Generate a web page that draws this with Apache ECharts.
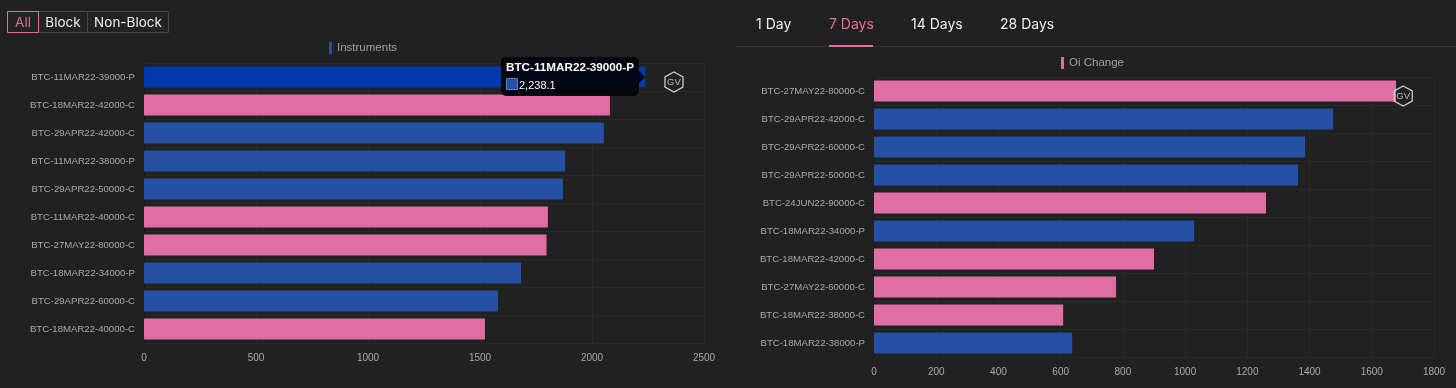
<!DOCTYPE html>
<html>
<head>
<meta charset="utf-8">
<style>
html, body { margin: 0; padding: 0; background: #212121; }
#chart { width: 1456px; height: 388px; }
</style>
<script src="https://cdn.jsdelivr.net/npm/echarts@6/dist/echarts.min.js"></script>
</head>
<body>
<div id="chart"></div>
<script>
const PINK = '#e06ea3';
const BLUE = '#2451a3';

const instrumentNames = ['BTC-11MAR22-39000-P', 'BTC-18MAR22-42000-C', 'BTC-29APR22-42000-C', 'BTC-11MAR22-38000-P', 'BTC-29APR22-50000-C',
    'BTC-11MAR22-40000-C', 'BTC-27MAY22-80000-C', 'BTC-18MAR22-34000-P', 'BTC-29APR22-60000-C', 'BTC-18MAR22-40000-C'];
const instrumentValues = [2238.1, 2080, 2053, 1880, 1870, 1803, 1797, 1683, 1580, 1522];
const instrumentSides = ['b', 'p', 'b', 'b', 'b', 'p', 'p', 'b', 'b', 'p'];

const oiNames = ['BTC-27MAY22-80000-C', 'BTC-29APR22-42000-C', 'BTC-29APR22-60000-C', 'BTC-29APR22-50000-C', 'BTC-24JUN22-90000-C',
    'BTC-18MAR22-34000-P', 'BTC-18MAR22-42000-C', 'BTC-27MAY22-60000-C', 'BTC-18MAR22-38000-C', 'BTC-18MAR22-38000-P'];
const oiValues = [1678, 1476, 1386, 1363, 1260, 1029, 900, 778, 608, 637];
const oiSides = ['p', 'b', 'b', 'b', 'p', 'b', 'p', 'p', 'p', 'b'];

const buttons = ['All', 'Block', 'Non-Block'];
const tabs = ['1 Day', '7 Days', '14 Days', '28 Days'];

const chart = echarts.init(document.getElementById('chart'));

const toBars = (values, sides) => values.map((v, i) => ({
    value: v,
    itemStyle: {color: sides[i] === 'p' ? PINK : BLUE}
}));

const gvMark = (value) => ({
    silent: true,
    animation: false,
    symbol: 'path://M10 0L20 6V18L10 24L0 18V6Z',
    symbolSize: [18, 20],
    itemStyle: {color: 'rgba(0,0,0,0)', borderColor: '#d0d0d0', borderWidth: 1.3},
    label: {show: true, position: 'inside', formatter: 'GV', color: '#b8b8b8', fontSize: 9.5, fontFamily: 'Liberation Sans'},
    data: [{coord: [value, 0], symbolOffset: [0, 5]}]
});

const valueAxis = (gridIndex, max, interval) => ({
    type: 'value',
    gridIndex: gridIndex,
    min: 0,
    max: max,
    interval: interval,
    axisLine: {show: false},
    axisTick: {show: false},
    axisLabel: {color: '#aaa', fontSize: 10, margin: 10, formatter: (v) => String(v)},
    splitLine: {lineStyle: {color: '#292929'}}
});

const categoryAxis = (gridIndex, names) => ({
    type: 'category',
    gridIndex: gridIndex,
    inverse: true,
    data: names,
    axisLine: {lineStyle: {color: '#181818'}},
    axisTick: {length: 9, lineStyle: {color: '#292929'}},
    axisLabel: {color: '#aaa', fontSize: 9.6, margin: 9, padding: [2, 0, 0, 0]},
    splitLine: {show: true, lineStyle: {color: '#292929'}}
});

// button group and tab strip above the charts
const buttonBoxes = [[7, 31], [38, 49], [87, 81]];
const tabX = [756, 829, 911, 1000];
const graphic = [];
buttons.forEach((b, i) => {
    const box = buttonBoxes[i];
    const on = i === 0;
    graphic.push({
        type: 'rect', z: on ? 12 : 10,
        shape: {x: box[0] + 0.5, y: 11.5, width: box[1], height: 21},
        style: {fill: '#232323', stroke: on ? PINK : '#474747', lineWidth: 1}
    });
    graphic.push({
        type: 'text', z: 13,
        style: {x: box[0] + box[1] / 2 + 0.5, y: 22.5, text: b, fill: on ? PINK : '#eee', font: '13.5px Inter', align: 'center', verticalAlign: 'middle'}
    });
});
tabs.forEach((t, i) => {
    graphic.push({
        type: 'text', z: 10,
        style: {x: tabX[i], y: 25, text: t, fill: i === 1 ? PINK : '#eee', font: '14px Inter', verticalAlign: 'middle'}
    });
});
graphic.push({type: 'rect', z: 9, shape: {x: 736, y: 46, width: 720, height: 1}, style: {fill: '#333'}});
graphic.push({type: 'rect', z: 10, shape: {x: 829, y: 45, width: 44, height: 2}, style: {fill: PINK}});

chart.setOption({
    animation: false,
    backgroundColor: '#212121',
    textStyle: {fontFamily: 'Liberation Sans'},
    graphic: graphic,
    legend: [
        {
            data: ['Instruments'], left: 324, top: 37, icon: 'rect', itemWidth: 3, itemHeight: 12, itemGap: 3,
            textStyle: {color: '#a0a0a0', fontSize: 11.5}, selectedMode: false
        },
        {
            data: ['Oi Change'], left: 1056, top: 52, icon: 'rect', itemWidth: 3, itemHeight: 12, itemGap: 3,
            textStyle: {color: '#a0a0a0', fontSize: 11.5}, selectedMode: false
        }
    ],
    tooltip: {
        trigger: 'item',
        alwaysShowContent: true,
        transitionDuration: 0,
        backgroundColor: 'rgba(3,5,12,0.96)',
        borderWidth: 0,
        padding: [1, 5],
        extraCssText: 'border-radius:5px;box-shadow:none;width:128px;height:37px;',
        position: [501, 57],
        formatter: (p) => '<div style="position:relative;font:11.7px/18px Liberation Sans;color:#fff">'
            + '<b>' + p.name + '</b><br>'
            + '<span style="display:inline-block;width:10px;height:10px;margin-right:1px;vertical-align:-1px;background:' + BLUE + ';border:1px solid #5a7cc0"></span>'
            + '<span style="font-size:11px">' + p.value.toLocaleString('en-US') + '</span>'
            + '<span style="position:absolute;right:-11px;top:13px;border-left:6px solid rgba(3,5,12,0.96);border-top:6px solid transparent;border-bottom:6px solid transparent"></span>'
            + '</div>'
    },
    grid: [
        {left: 144, top: 63, width: 560, height: 280},
        {left: 874, top: 77, width: 560, height: 280}
    ],
    xAxis: [valueAxis(0, 2500, 500), valueAxis(1, 1800, 200)],
    yAxis: [categoryAxis(0, instrumentNames), categoryAxis(1, oiNames)],
    series: [
        {
            name: 'Instruments', type: 'bar', xAxisIndex: 0, yAxisIndex: 0, barWidth: 21,
            itemStyle: {color: BLUE},
            emphasis: {itemStyle: {color: '#0039ac'}},
            data: toBars(instrumentValues, instrumentSides),
            markPoint: gvMark(2366)
        },
        {
            name: 'Oi Change', type: 'bar', xAxisIndex: 1, yAxisIndex: 1, barWidth: 21,
            itemStyle: {color: PINK},
            tooltip: {show: false},
            data: toBars(oiValues, oiSides),
            markPoint: gvMark(1701)
        }
    ]
});

chart.dispatchAction({type: 'highlight', seriesIndex: 0, dataIndex: 0});
chart.dispatchAction({type: 'showTip', seriesIndex: 0, dataIndex: 0});
</script>
</body>
</html>
